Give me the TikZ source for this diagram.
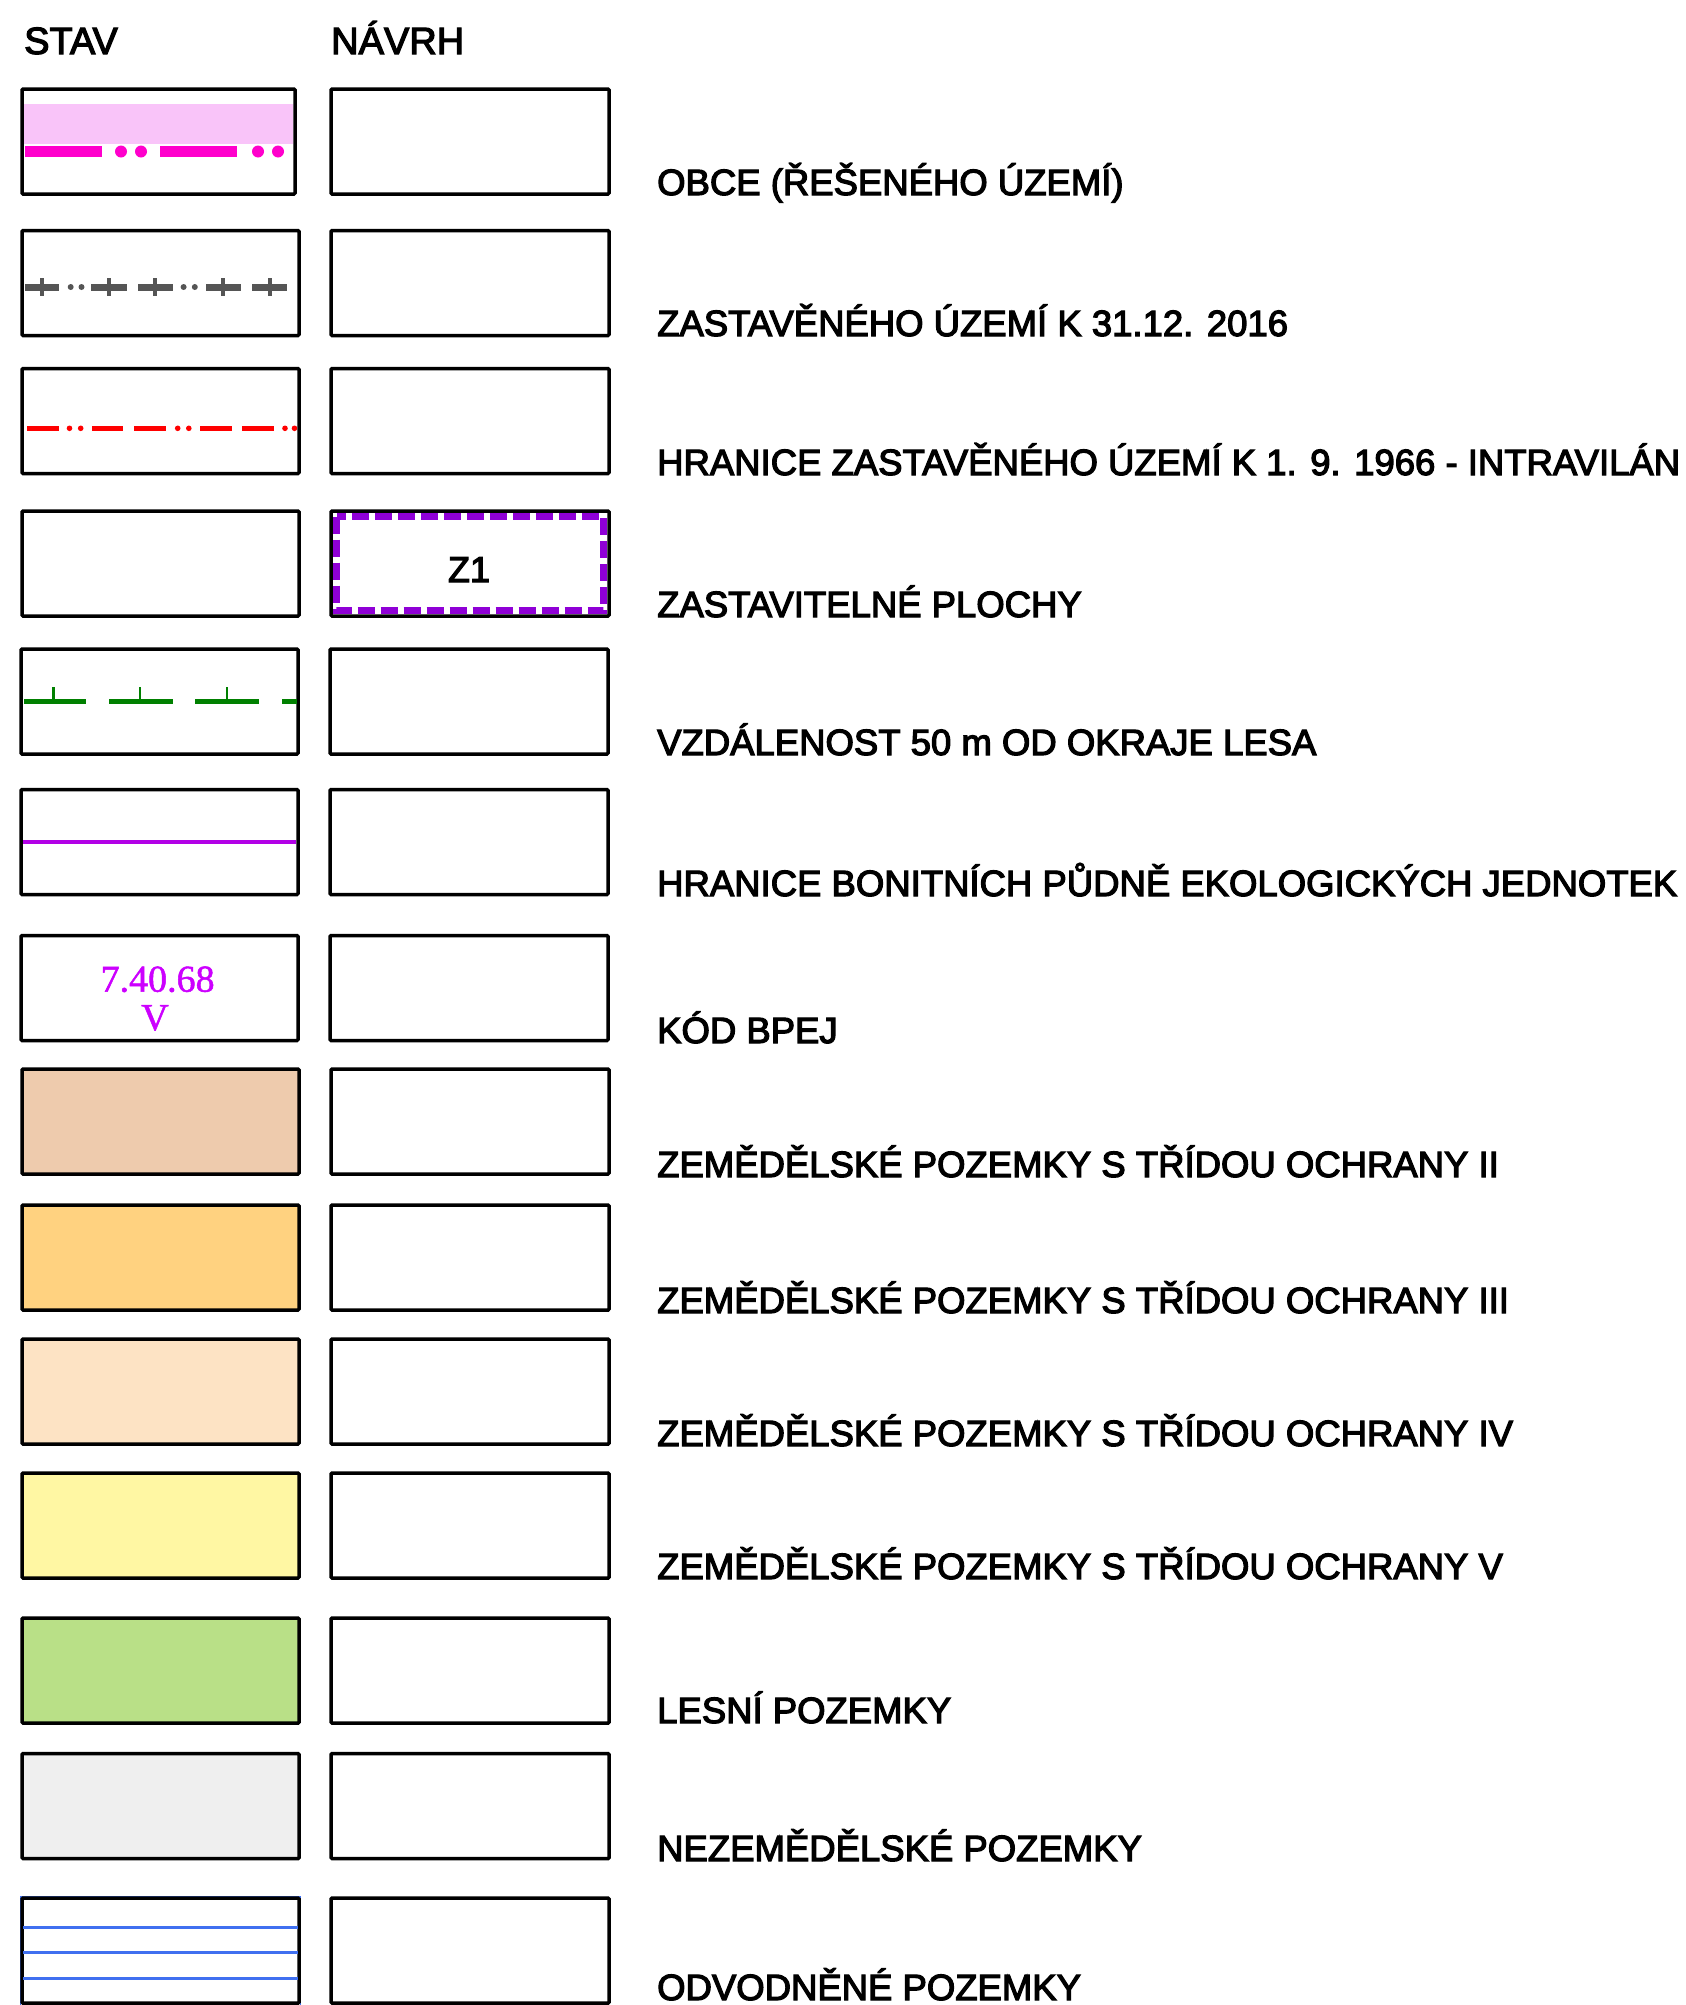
\documentclass[tikz,border=0pt]{standalone}
\usepackage{fontspec}
\setmainfont{Liberation Sans}
\newfontfamily\serifnum{Liberation Serif}
\newcommand{\hv}[1]{\special{pdf:literal direct 2 Tr 1.2 w}#1\special{pdf:literal direct 0 Tr}}
\newcommand{\hvl}[1]{\special{pdf:literal direct 2 Tr 0.5 w}#1\special{pdf:literal direct 0 Tr}}
\definecolor{pinkband}{RGB}{249,196,249}
\definecolor{magline}{RGB}{255,0,204}
\definecolor{grayline}{RGB}{85,85,85}
\definecolor{redline}{RGB}{255,0,0}
\definecolor{purpdash}{RGB}{143,0,214}
\definecolor{grnline}{RGB}{0,128,0}
\definecolor{vioGreenLine}{RGB}{178,0,230}
\definecolor{bpejtxt}{RGB}{204,0,255}
\definecolor{cII}{RGB}{238,203,173}
\definecolor{cIII}{RGB}{255,210,128}
\definecolor{cIV}{RGB}{253,227,196}
\definecolor{cV}{RGB}{255,247,163}
\definecolor{cles}{RGB}{185,224,135}
\definecolor{cnez}{RGB}{239,239,239}
\definecolor{blueline}{RGB}{64,112,240}
\begin{document}
\begin{tikzpicture}[x=1pt,y=-1pt,
  lbox/.style={draw=black, line width=3.5pt, rounded corners=1pt, minimum width=277pt, minimum height=105pt, inner sep=0pt, outer sep=0pt},
  rbox/.style={lbox, minimum width=278pt},
  lbl/.style={anchor=base west, inner sep=0pt, font=\fontsize{36.5}{40}\selectfont},
  hdr/.style={anchor=base west, inner sep=0pt, font=\fontsize{38}{42}\selectfont},
  bpej/.style={anchor=base, inner sep=0pt, text=bpejtxt, font=\serifnum\fontsize{38}{42}\selectfont},
]
\useasboundingbox (0,0) rectangle (1686,2005);

% headers
\node[hdr] (hstav) at (24,54) {\hv{STAV}};
\node[hdr] (hnavrh) at (331,54) {\hv{NÁVRH}};

% column 1 boxes (STAV)
\node[lbox, minimum width=273pt] (s1) at (158.5,141.5) {};
\node[lbox] (s2) at (160.5,283) {};
\node[lbox] (s3) at (160.5,421) {};
\node[lbox] (s4) at (160.5,563.5) {};
\node[lbox] (s5) at (159.5,701.5) {};
\node[lbox] (s6) at (159.5,842) {};
\node[lbox] (s7) at (159.5,988) {};
\node[lbox, fill=cII] (s8) at (160.5,1121.5) {};
\node[lbox, fill=cIII] (s9) at (160.5,1257.5) {};
\node[lbox, fill=cIV] (s10) at (160.5,1391.5) {};
\node[lbox, fill=cV] (s11) at (160.5,1525.5) {};
\node[lbox, fill=cles] (s12) at (160.5,1670.5) {};
\node[lbox, fill=cnez] (s13) at (160.5,1806) {};
\draw[blueline, line width=1.2pt] (20.2,1896.2) rectangle (300.8,2010);
\node[lbox] (s14) at (160.5,1950.5) {};

% column 2 boxes (NAVRH)
\node[rbox] (n1) at (470,141.5) {};
\node[rbox] (n2) at (470,283) {};
\node[rbox] (n3) at (470,421) {};
\node[rbox] (n4) at (470,563.5) {};
\node[rbox] (n5) at (469,701.5) {};
\node[rbox] (n6) at (469,842) {};
\node[rbox] (n7) at (469,988) {};
\node[rbox] (n8) at (470,1121.5) {};
\node[rbox] (n9) at (470,1257.5) {};
\node[rbox] (n10) at (470,1391.5) {};
\node[rbox] (n11) at (470,1525.5) {};
\node[rbox] (n12) at (470,1670.5) {};
\node[rbox] (n13) at (470,1806) {};
\node[rbox] (n14) at (470,1950.5) {};

% row 1 symbol
\fill[pinkband] (24,104) rectangle (293,144);
\foreach \a in {25,160} { \fill[magline] (\a,146) rectangle (\a+77,157); }
\foreach \c in {121,141,258,278} { \fill[magline] (\c,151.5) circle[radius=6pt]; }

% row 2 symbol
\foreach \a/\b/\t in {24.6/58.8/41.7, 91.4/127/109, 138/173/155, 206/241/223, 251.6/287/269.5} {
  \fill[grayline] (\a,283.5) rectangle (\b,290.5);
  \fill[grayline] (\t-2,278) rectangle (\t+2,296);
}
\foreach \c in {70.7,81.5,183.6,194.8} { \fill[grayline] (\c,287) circle[radius=3pt]; }

% row 3 symbol
\foreach \a/\b in {27/59,92/123,134/166,200/232,242/274} { \fill[redline] (\a,425.8) rectangle (\b,430.8); }
\foreach \c in {69.5,80.7,177.7,188.8,285,294.5} { \fill[redline] (\c,428.3) circle[radius=2.8pt]; }

% row 4 navrh symbol
\draw[purpdash, line width=7pt, dash pattern=on 17pt off 6pt] (336.5,516.5) rectangle (603.5,610.5);
\node[anchor=base, inner sep=0pt, font=\fontsize{36}{40}\selectfont] (z1) at (469,582) {\hv{Z1}};

% row 5 symbol
\foreach \a/\b/\t in {23.5/85.5/53.7, 108.5/173/140, 195/259/227} {
  \fill[grnline] (\a,699.2) rectangle (\b,704.2);
  \fill[grnline] (\t-1.3,687) rectangle (\t+1.3,702);
}
\fill[grnline] (282,699.2) rectangle (296.5,704.2);

% row 6 symbol
\fill[vioGreenLine] (23,840.2) rectangle (296,843.8);

% row 7 symbol
\node[bpej] (bpej1) at (157.6,991.7) {\hvl{7.40.68}};
\node[bpej] (bpej2) at (155,1030) {\hvl{V}};

% row 14 symbol
\foreach \y in {1927,1952,1978} { \fill[blueline] (23,\y-1.5) rectangle (298,\y+1.5); }

% labels
\node[lbl] (l1) at (657,195) {\hv{OBCE (ŘEŠENÉHO ÚZEMÍ)}};
\node[lbl] (l2) at (657,336) {\hv{ZASTAVĚNÉHO ÚZEMÍ K 31.12. 2016}};
\node[lbl] (l3) at (657,475) {\hv{HRANICE ZASTAVĚNÉHO ÚZEMÍ K 1. 9. 1966 - INTRAVILÁN}};
\node[lbl] (l4) at (657,617) {\hv{ZASTAVITELNÉ PLOCHY}};
\node[lbl] (l5) at (657,755) {\hv{VZDÁLENOST 50 m OD OKRAJE LESA}};
\node[lbl] (l6) at (657,896) {\hv{HRANICE BONITNÍCH PŮDNĚ EKOLOGICKÝCH JEDNOTEK}};
\node[lbl] (l7) at (657,1043) {\hv{KÓD BPEJ}};
\node[lbl] (l8) at (657,1177) {\hv{ZEMĚDĚLSKÉ POZEMKY S TŘÍDOU OCHRANY II}};
\node[lbl] (l9) at (657,1313) {\hv{ZEMĚDĚLSKÉ POZEMKY S TŘÍDOU OCHRANY III}};
\node[lbl] (l10) at (657,1446) {\hv{ZEMĚDĚLSKÉ POZEMKY S TŘÍDOU OCHRANY IV}};
\node[lbl] (l11) at (657,1579) {\hv{ZEMĚDĚLSKÉ POZEMKY S TŘÍDOU OCHRANY V}};
\node[lbl] (l12) at (657,1723) {\hv{LESNÍ POZEMKY}};
\node[lbl] (l13) at (657,1861) {\hv{NEZEMĚDĚLSKÉ POZEMKY}};
\node[lbl] (l14) at (657,2000) {\hv{ODVODNĚNÉ POZEMKY}};
\end{tikzpicture}
\end{document}
